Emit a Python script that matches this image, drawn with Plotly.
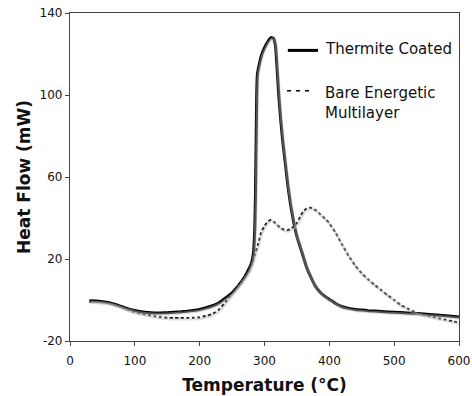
import plotly.graph_objects as go

# ---- data ----
thermite_x = [30, 40, 50, 60, 70, 80, 90, 100, 110, 120, 130, 140, 150, 160, 170, 180, 190, 200,
              210, 220, 230, 240, 250, 260, 270, 275, 280, 283, 285, 286, 287, 288, 289, 292, 296,
              300, 305, 310, 314, 317, 319, 322, 325, 328, 332, 336, 340, 345, 350, 355, 360, 365,
              371, 378, 385, 392, 400, 410, 420, 430, 440, 450, 460, 480, 500, 520, 540, 560, 580, 600]
thermite_y = [-0.4, -0.5, -0.8, -1.3, -2.2, -3.3, -4.3, -5.1, -5.7, -6.1, -6.3, -6.3, -6.2, -6.0, -5.8, -5.5, -5.1, -4.6,
              -3.8, -2.8, -1.3, 1, 3.5, 7, 11.5, 14.5, 18, 23, 35, 50, 75, 100, 110, 115, 120,
              123, 126, 128, 127.5, 124, 115, 100, 88, 78, 67, 56, 47, 38, 31, 26, 21, 16,
              11.5, 7, 4, 2, 0.3, -1.8, -3.3, -4.1, -4.6, -4.9, -5.2, -5.6, -6.0, -6.3, -6.7, -7.2, -7.7, -8.3]

bare_x = [30, 40, 50, 60, 70, 80, 90, 100, 110, 120, 130, 140, 150, 160, 170, 180, 190, 200,
          210, 220, 230, 240, 250, 260, 270, 275, 280, 285, 290, 295, 300, 305, 310, 315, 320,
          325, 330, 335, 340, 345, 350, 355, 360, 365, 370, 375, 380, 386, 393, 400, 410, 420,
          430, 440, 450, 460, 470, 480, 490, 500, 510, 520, 530, 540, 550, 560, 570, 580, 590, 600]
bare_y = [-0.8, -0.9, -1.1, -1.5, -2.4, -3.6, -4.9, -5.9, -6.7, -7.3, -7.9, -8.4, -8.7, -8.8, -8.8, -8.8, -8.7, -8.5,
          -7.8, -6.8, -4.6, -1, 3.2, 7.5, 11.5, 13.5, 17, 22, 27, 33, 36, 38.2, 39, 38, 36.5,
          35, 34.3, 34, 34.5, 35.8, 37.5, 40.5, 43.2, 44.6, 45, 44.5, 43.6, 41.8, 39.8, 37.4, 32.6, 26.8,
          21.4, 16.8, 13, 10, 7.3, 4.8, 2.3, 0, -2.4, -4.1, -5.6, -6.7, -7.6, -8.3, -9, -9.7, -10.4, -11]

series_names = ["Thermite Coated", "Bare Energetic<br>Multilayer"]
x_ticks = [0, 100, 200, 300, 400, 500, 600]
y_ticks = [-20, 20, 60, 100, 140]
y_tick_labels = ["-20", "20", "60", "100", "140"]

FONT = "DejaVu Sans"

fig = go.Figure()

# soft drop shadows (same data, drawn on slightly shifted hidden axes)
fig.add_trace(go.Scatter(x=bare_x, y=bare_y, mode="lines", xaxis="x2", yaxis="y2",
                         line=dict(color="rgba(185,185,185,0.45)", width=2.5, shape="spline", smoothing=0.6),
                         hoverinfo="skip", showlegend=False))
fig.add_trace(go.Scatter(x=thermite_x, y=thermite_y, mode="lines", xaxis="x2", yaxis="y2",
                         line=dict(color="rgba(185,185,185,0.45)", width=3, shape="spline", smoothing=0.4),
                         hoverinfo="skip", showlegend=False))

fig.add_trace(go.Scatter(x=bare_x, y=bare_y, mode="lines", name=series_names[1],
                         line=dict(color="#111111", width=2, dash="3px,2.5px", shape="spline", smoothing=0.6),
                         showlegend=False))
fig.add_trace(go.Scatter(x=thermite_x, y=thermite_y, mode="lines", name=series_names[0],
                         line=dict(color="#000000", width=3, shape="spline", smoothing=0.4),
                         showlegend=False))

axis_common = dict(showline=True, linecolor="#444444", linewidth=1.2, mirror=True, automargin=False,
                   ticks="outside", ticklen=4, tickcolor="#444444", showgrid=False, zeroline=False,
                   tickfont=dict(family=FONT, size=12, color="#111111"))

fig.update_layout(
    width=472, height=396,
    margin=dict(l=70, r=13, t=13, b=55),
    paper_bgcolor="white", plot_bgcolor="white",
    xaxis=dict(range=[0, 600], tickvals=x_ticks, ticklabelstandoff=4,
               title=dict(text="<b>Temperature (°C)</b>", font=dict(family=FONT, size=17, color="#111111"),
                          standoff=12),
               **axis_common),
    yaxis=dict(range=[-20, 140], tickvals=y_ticks, ticktext=y_tick_labels,
               title=dict(text="<b>Heat Flow (mW)</b>", font=dict(family=FONT, size=17, color="#111111"),
                          standoff=4),
               **axis_common),
    xaxis2=dict(range=[-1.2, 598.8], overlaying="x", visible=False),
    yaxis2=dict(range=[-19.4, 140.6], overlaying="y", visible=False),
)

# legend drawn manually to match the reference placement
fig.add_shape(type="line", xref="paper", yref="paper", x0=0.560, x1=0.6375, y0=0.886, y1=0.886,
              line=dict(color="black", width=3))
fig.add_shape(type="line", xref="paper", yref="paper", x0=0.558, x1=0.624, y0=0.763, y1=0.763,
              line=dict(color="black", width=1.5, dash="4px,5px"))
fig.add_annotation(xref="paper", yref="paper", x=0.650, y=0.889, xanchor="left", yanchor="middle",
                   text=series_names[0], showarrow=False,
                   font=dict(family=FONT, size=15, color="#111111"))
fig.add_annotation(xref="paper", yref="paper", x=0.650, y=0.790, xanchor="left", yanchor="top",
                   text=series_names[1], showarrow=False, align="left",
                   font=dict(family=FONT, size=15, color="#111111"))

fig.write_html("out.html", config={"displayModeBar": False},
               post_script="document.body.style.margin='0';")
